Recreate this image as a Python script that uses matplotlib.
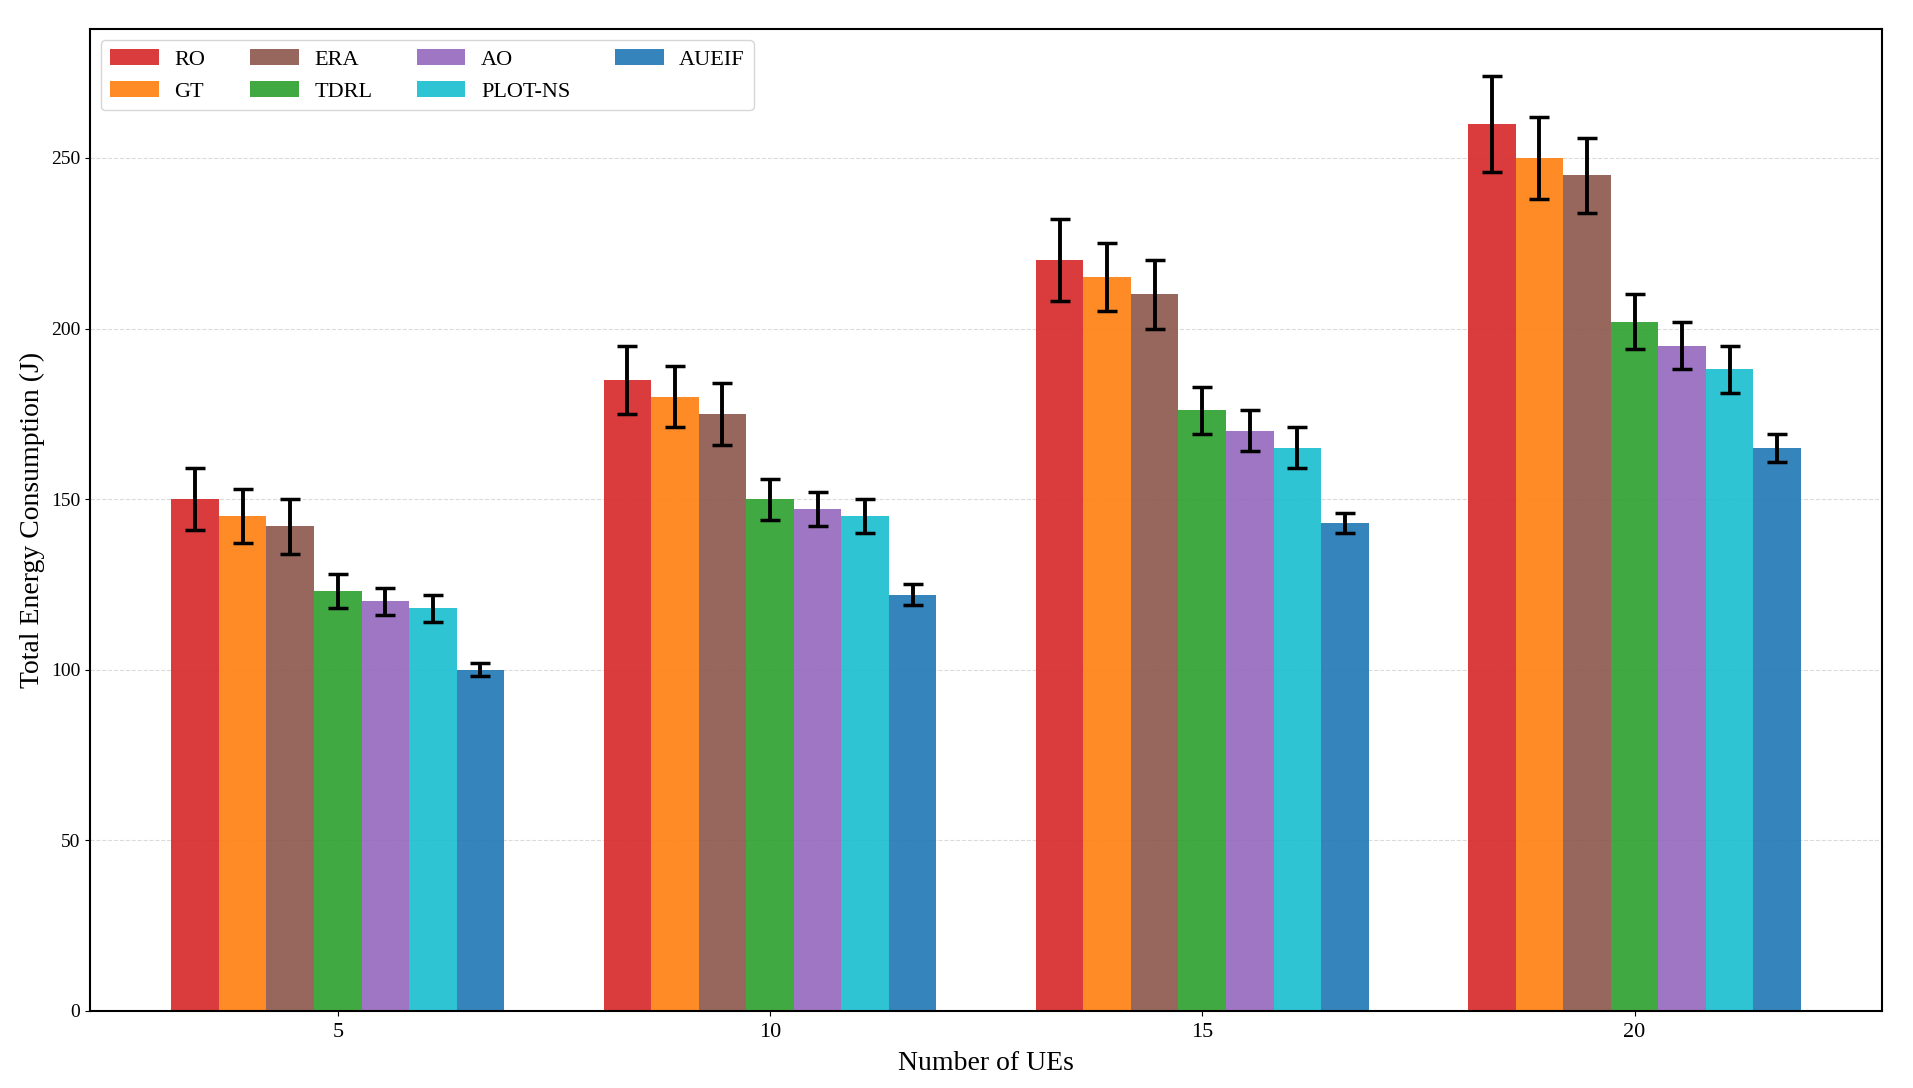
import numpy as np
import matplotlib.pyplot as plt

plt.rcParams['font.family'] = ['Liberation Serif', 'DejaVu Serif']

ue_counts = [5, 10, 15, 20]
methods = ['RO', 'GT', 'ERA', 'TDRL', 'AO', 'PLOT-NS', 'AUEIF']
colors = ['#d62728', '#ff7f0e', '#8c564b', '#2ca02c', '#9467bd', '#17becf', '#1f77b4']

# mean energy per method, one entry per UE count
ro = [150, 185, 220, 260]
gt = [145, 180, 215, 250]
era = [142, 175, 210, 245]
tdrl = [123, 150, 176, 202]
ao = [120, 147, 170, 195]
plot_ns = [118, 145, 165, 188]
aueif = [100, 122, 143, 165]

ro_err = [9, 10, 12, 14]
gt_err = [8, 9, 10, 12]
era_err = [8, 9, 10, 11]
tdrl_err = [5, 6, 7, 8]
ao_err = [4, 5, 6, 7]
plot_ns_err = [4, 5, 6, 7]
aueif_err = [2, 3, 3, 4]

means = [ro, gt, era, tdrl, ao, plot_ns, aueif]
errs = [ro_err, gt_err, era_err, tdrl_err, ao_err, plot_ns_err, aueif_err]

fig, ax = plt.subplots(figsize=(19.13, 10.88), dpi=100)
x = np.arange(len(ue_counts))
width = 0.11

for i, name in enumerate(methods):
    ax.bar(x + (i - 3) * width, means[i], width, yerr=errs[i], label=name,
           color=colors[i], alpha=0.9, capsize=7,
           error_kw={'elinewidth': 2.8, 'capthick': 2.5, 'ecolor': 'black'})

ax.set_xticks(x)
ax.set_xticklabels([str(u) for u in ue_counts], fontsize=16)
ax.tick_params(axis='x', pad=5)
ax.tick_params(axis='y', labelsize=14)
ax.set_xlabel('Number of UEs', fontsize=20, labelpad=7)
ax.set_ylabel('Total Energy Consumption (J)', fontsize=20)
ax.grid(axis='y', linestyle='--', alpha=0.7, color='#cccccc')
ax.set_axisbelow(True)
for s in ax.spines.values():
    s.set_linewidth(1.5)

ax.legend(loc='upper left', ncol=4, fontsize=16, handlelength=2.2,
          columnspacing=2.0, handletextpad=0.7, frameon=True,
          edgecolor='#cccccc', fancybox=True)

plt.subplots_adjust(left=0.047, right=0.984, top=0.973, bottom=0.071)
plt.savefig('out.png')
